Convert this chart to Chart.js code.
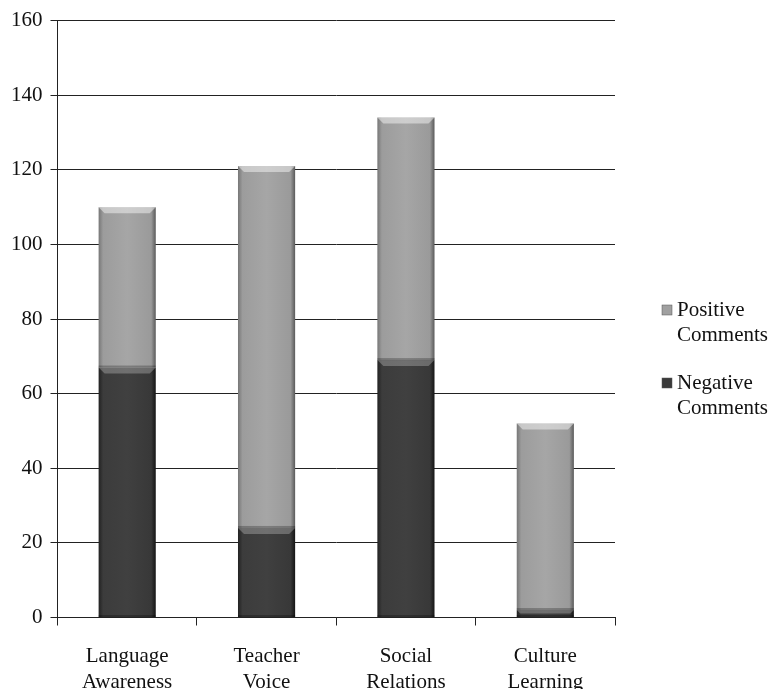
<!DOCTYPE html>
<html>
<head>
<meta charset="utf-8">
<script src="https://cdn.jsdelivr.net/npm/chart.js@4.4.1/dist/chart.umd.min.js"></script>
<style>
  html, body { margin: 0; padding: 0; background: #fff; }
  #wrap { width: 781px; height: 689px; }
</style>
</head>
<body>
<div id="wrap"><canvas id="barChart0"></canvas></div>
<script>
// categories and values
const categories = [["Language", "Awareness"], ["Teacher", "Voice"], ["Social", "Relations"], ["Culture", "Learning"]];
const negativeComments = [67, 24, 69, 2];
const positiveComments = [43, 97, 65, 50];
const yTicks = [0, 20, 40, 60, 80, 100, 120, 140, 160];
const legendLabels = [["Positive", "Comments"], ["Negative", "Comments"]];

const FONT = "'Liberation Serif', 'DejaVu Serif', serif";
const FONT_SIZE = 21;
const BAR_PCT = 0.41;

// horizontal gradient, darker at the edges like the bevelled bars
function barFill(ctx, light) {
  const chart = ctx.chart;
  const xs = chart.scales && chart.scales.x;
  const flat = light ? "#9a9a9a" : "#3a3a3a";
  if (!xs || !chart.chartArea || ctx.dataIndex === undefined) return flat;
  const cx = xs.getPixelForValue(ctx.dataIndex);
  const half = (xs.width / categories.length) * BAR_PCT / 2;
  if (!isFinite(cx) || !isFinite(half) || half <= 0) return flat;
  const g = chart.ctx.createLinearGradient(cx - half, 0, cx + half, 0);
  if (light) {
    g.addColorStop(0, "#777");
    g.addColorStop(0.08, "#9c9c9c");
    g.addColorStop(0.5, "#a6a6a6");
    g.addColorStop(0.92, "#9a9a9a");
    g.addColorStop(1, "#5a5a5a");
  } else {
    g.addColorStop(0, "#222");
    g.addColorStop(0.08, "#3c3c3c");
    g.addColorStop(0.5, "#404040");
    g.addColorStop(0.92, "#383838");
    g.addColorStop(1, "#151515");
  }
  return g;
}

// bevel highlight at the top of each segment
const bevelPlugin = {
  id: "bevel",
  afterDatasetsDraw(chart) {
    const c = chart.ctx;
    chart.data.datasets.forEach((ds, di) => {
      const meta = chart.getDatasetMeta(di);
      meta.data.forEach((bar) => {
        const half = bar.width / 2;
        const top = Math.min(bar.y, bar.base);
        const h = Math.abs(bar.base - bar.y);
        if (!(h >= 1)) return;
        const bh = Math.min(6, h / 2);
        c.save();
        const light = di === 1;
        c.fillStyle = light ? "rgba(255,255,255,0.45)" : "rgba(255,255,255,0.25)";
        c.beginPath();
        c.moveTo(bar.x - half, top);
        c.lineTo(bar.x + half, top);
        c.lineTo(bar.x + half - bh, top + bh);
        c.lineTo(bar.x - half + bh, top + bh);
        c.closePath();
        c.fill();
        c.fillStyle = "rgba(0,0,0,0.25)";
        c.fillRect(bar.x - half, top + h - 2, bar.width, 2);
        c.restore();
      });
    });
  }
};

// legend drawn by hand so the labels can wrap onto two lines
const legendPlugin = {
  id: "sideLegend",
  afterDraw(chart) {
    const c = chart.ctx;
    const fills = ["#a0a0a0", "#3a3a3a"];
    const startY = [310, 383];
    c.save();
    c.font = FONT_SIZE + "px " + FONT;
    c.textBaseline = "middle";
    legendLabels.forEach((lines, i) => {
      const y = startY[i];
      c.fillStyle = fills[i];
      c.fillRect(662, y - 5, 10, 10);
      c.strokeStyle = "#555";
      c.lineWidth = 0.5;
      c.strokeRect(662, y - 5, 10, 10);
      c.fillStyle = "#111";
      c.fillText(lines[0], 677, y);
      c.fillText(lines[1], 677, y + 25);
    });
    c.restore();
  }
};

new Chart(document.getElementById("barChart0").getContext("2d"), {
  type: "bar",
  data: {
    labels: categories,
    datasets: [
      {
        label: "Negative Comments",
        data: negativeComments,
        backgroundColor: (ctx) => barFill(ctx, false),
        barPercentage: BAR_PCT,
        categoryPercentage: 1.0,
      },
      {
        label: "Positive Comments",
        data: positiveComments,
        backgroundColor: (ctx) => barFill(ctx, true),
        barPercentage: BAR_PCT,
        categoryPercentage: 1.0,
      },
    ],
  },
  options: {
    responsive: true,
    maintainAspectRatio: false,
    animation: false,
    layout: { padding: { left: 3, right: 166, top: 13, bottom: -25 } },
    plugins: {
      legend: { display: false },
      tooltip: { enabled: false },
    },
    scales: {
      x: {
        stacked: true,
        grid: {
          offset: true,
          drawOnChartArea: false,
          color: "#222",
          tickLength: 8,
        },
        border: { color: "#222" },
        ticks: {
          color: "#111",
          font: { family: FONT, size: FONT_SIZE, lineHeight: 1.25 },
          padding: 18,
          maxRotation: 0,
        },
      },
      y: {
        stacked: true,
        min: 0,
        max: 160,
        afterBuildTicks: (axis) => {
          axis.ticks = yTicks.map((v) => ({ value: v }));
        },
        grid: { color: "#222", tickLength: 7, lineWidth: 1 },
        border: { color: "#222" },
        ticks: {
          color: "#111",
          font: { family: FONT, size: FONT_SIZE },
          padding: 8,
        },
      },
    },
  },
  plugins: [bevelPlugin, legendPlugin],
});
</script>
</body>
</html>
